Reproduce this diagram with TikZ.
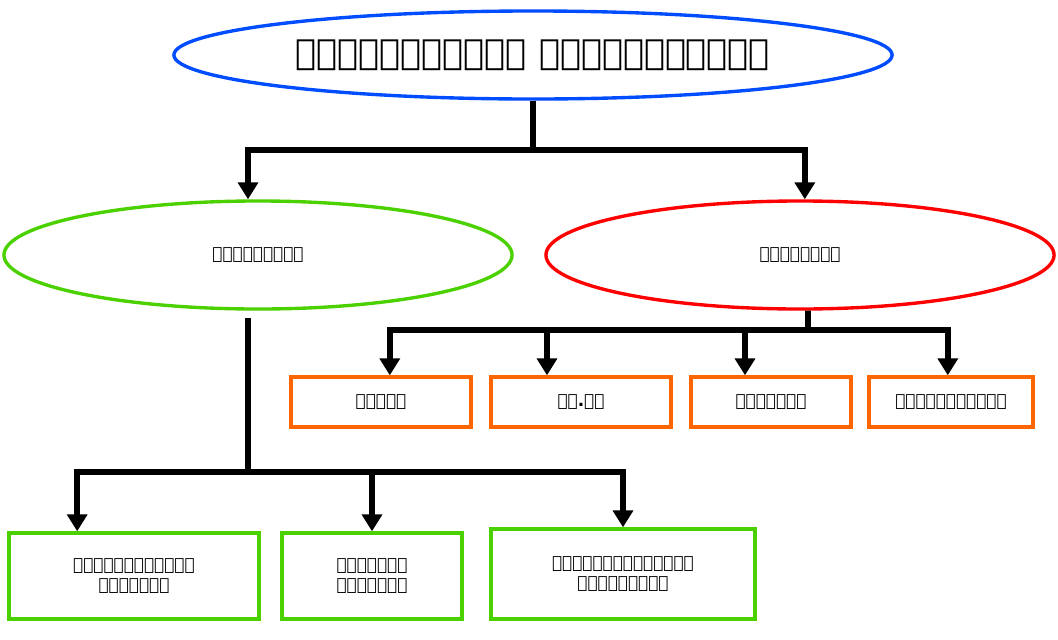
\documentclass[tikz,border=0pt]{standalone}
\usepackage{fontspec}
\setmainfont{DejaVu Sans}
\usetikzlibrary{shapes.geometric,arrows.meta,positioning}

\begin{document}
\begin{tikzpicture}[x=0.025cm,y=-0.025cm,
    oval/.style={ellipse,draw,line width=2.4pt,font=\bfseries},
    box/.style={rectangle,draw,line width=2.4pt,align=center,font=\bfseries\large},
    link/.style={line width=4pt,-{Triangle[length=12pt,width=14pt]}},
    bar/.style={line width=4pt}]
    \useasboundingbox (0,0) rectangle (1058,639);
    % ovals
    \node[oval,draw=blue!70!cyan,minimum width=17.95cm,minimum height=2.2cm,font=\bfseries\Huge] (src) at (533,55) {ദത്തങ്ങളുടെ സ്രോതസ്സുകൾ};
    \node[oval,draw=green!70!black!60!lime,minimum width=12.7cm,minimum height=2.7cm,font=\bfseries\large] (prim) at (258,255) {പ്രാഥമികം};
    \node[oval,draw=red,minimum width=12.7cm,minimum height=2.7cm,font=\bfseries\large] (sec) at (800,255) {ദ്വിതീയം};
    % secondary sources
    \node[box,draw=orange!80!red,minimum width=4.5cm,minimum height=1.25cm] (b1) at (381,402) {പത്രം};
    \node[box,draw=orange!80!red,minimum width=4.5cm,minimum height=1.25cm] (b2) at (581,402) {ടി.വി};
    \node[box,draw=orange!80!red,minimum width=4cm,minimum height=1.25cm] (b3) at (771,402) {മാസികകൾ};
    \node[box,draw=orange!80!red,minimum width=4.1cm,minimum height=1.25cm] (b4) at (951,402) {ഇന്റർനെറ്റ്};
    % primary sources
    \node[box,draw=green!70!black!60!lime,minimum width=6.25cm,minimum height=2.15cm] (p1) at (134,576) {വ്യക്തിപരമായ\\അഭിമുഖം};
    \node[box,draw=green!70!black!60!lime,minimum width=4.5cm,minimum height=2.15cm] (p2) at (372,576) {ടെലിഫോൺ\\അഭിമുഖം};
    \node[box,draw=green!70!black!60!lime,minimum width=6.6cm,minimum height=2.25cm] (p3) at (623,574) {തപാൽമുഖേനയുള്ള\\ചോദ്യാവലി};
    % junctions
    \coordinate (j1) at (533,150);
    \coordinate (j2) at (808,330);
    \coordinate (j3) at (248,472);
    \coordinate (t1) at (248,318);

    \draw[bar] (src.south) -- (j1);
    \draw[link] (j1) -| ([xshift=-0.25cm]prim.north);
    \draw[link] (j1) -| ([xshift=0.12cm]sec.north);
    \draw[bar] ([xshift=0.2cm]sec.south) -- (j2);
    \draw[link] (j2) -| ([xshift=0.22cm]b1.north);
    \draw[link] (j2) -| ([xshift=-0.85cm]b2.north);
    \draw[link] (j2) -| ([xshift=-0.65cm]b3.north);
    \draw[link] (j2) -| ([xshift=-0.08cm]b4.north);
    \draw[bar] (t1) -- (j3);
    \draw[link] (j3) -| ([xshift=-1.42cm]p1.north);
    \draw[link] (j3) -| (p2.north);
    \draw[link] (j3) -| (p3.north);
\end{tikzpicture}
\end{document}
